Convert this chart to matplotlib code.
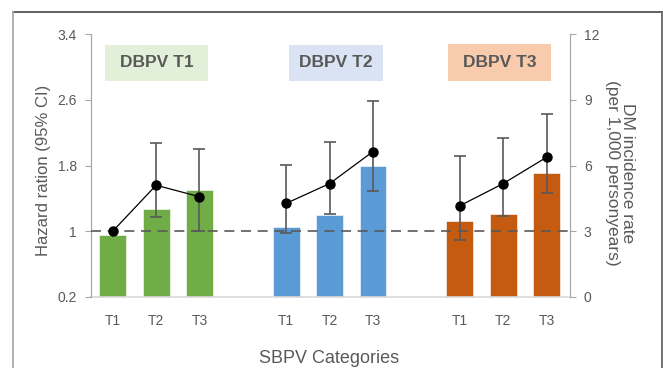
import matplotlib
matplotlib.use("Agg")
import matplotlib.pyplot as plt
from matplotlib.patches import Rectangle
from matplotlib.lines import Line2D

plt.rcParams['font.family'] = ['Liberation Sans', 'DejaVu Sans']

# ---- data ----
groups = ["DBPV T1", "DBPV T2", "DBPV T3"]
categories = ["T1", "T2", "T3"]
incidence_t1 = [2.82, 4.00, 4.88]
incidence_t2 = [3.20, 3.73, 5.97]
incidence_t3 = [3.47, 3.77, 5.65]
hr_t1 = [1.00, 1.56, 1.42]
hr_t2 = [1.34, 1.58, 1.97]
hr_t3 = [1.31, 1.58, 1.90]
lo_t1 = [1.00, 1.17, 1.00]
lo_t2 = [0.98, 1.21, 1.49]
lo_t3 = [0.89, 1.19, 1.47]
hi_t1 = [1.00, 2.07, 2.00]
hi_t2 = [1.81, 2.09, 2.58]
hi_t3 = [1.92, 2.13, 2.43]
left_ticks = [0.2, 1, 1.8, 2.6, 3.4]
left_labels = ["0.2", "1", "1.8", "2.6", "3.4"]
right_ticks = [0, 3, 6, 9, 12]

bar_colors = ["#70AD47", "#5B9BD5", "#C55A11"]
box_colors = ["#E2F0D9", "#DAE3F3", "#F8CBAD"]
incidence = [incidence_t1, incidence_t2, incidence_t3]
hrs = [hr_t1, hr_t2, hr_t3]
los = [lo_t1, lo_t2, lo_t3]
his = [hi_t1, hi_t2, hi_t3]

W, H = 663, 368
fig = plt.figure(figsize=(W / 100, H / 100), dpi=100)
L, R, B, T = 91, 570, 297, 34
ax_r = fig.add_axes([L / W, 1 - B / H, (R - L) / W, (B - T) / H])  # bars (right scale)
ax = ax_r.twinx()
ax_r.yaxis.tick_right()
ax.yaxis.tick_left()

tc = "#595959"
positions = []
for g in range(3):
    xs = [g * 4 + i for i in range(3)]
    positions += xs
    ax_r.bar(xs, incidence[g], width=0.62, color=bar_colors[g], edgecolor="white", linewidth=0.4, zorder=2)
    ax.plot(xs, hrs[g], color="black", lw=0.9, zorder=4)
    ax.plot(xs, hrs[g], 'o', color="black", ms=6.5, zorder=5)
    for x, h, lo, hi in zip(xs, hrs[g], los[g], his[g]):
        if hi - lo > 1e-6:
            ax.errorbar([x], [h], yerr=[[h - lo], [hi - h]], fmt='none', ecolor="#595959",
                        elinewidth=1.2, capsize=4, capthick=1.2, zorder=3)

ax.axhline(1, color="#595959", lw=1.2, ls=(0, (6, 4)), zorder=3)

ax_r.set_xlim(-0.5, 10.54)
ax_r.set_ylim(0, 12)
ax.set_ylim(0.2, 3.4)
ax.set_yticks(left_ticks)
ax.set_yticklabels(left_labels)
ax_r.set_yticks(right_ticks)
ax_r.set_xticks(positions)
ax_r.set_xticklabels(categories * 3)

for a in (ax, ax_r):
    a.spines["top"].set_visible(False)
    a.spines["left"].set_color("#A6A6A6")
    a.spines["right"].set_color("#A6A6A6")
    a.spines["bottom"].set_color("#D9D9D9")
    a.spines["bottom"].set_linewidth(1.2)
ax.spines["bottom"].set_visible(False)
ax_r.tick_params(axis='x', length=0, pad=12, labelsize=10, labelcolor=tc)
ax_r.tick_params(axis='y', length=4, color="#A6A6A6", labelsize=10, labelcolor=tc, pad=6)
ax.tick_params(axis='y', length=4, color="#A6A6A6", labelsize=10, labelcolor=tc, pad=6)

# group label boxes
boxes = [(105, 208, 44.5, 80.5), (289, 383, 45, 80.5), (448, 551, 44.5, 81)]
for (x0, x1, y0, y1), c, lab in zip(boxes, box_colors, groups):
    fig.patches.append(Rectangle((x0 / W, 1 - y1 / H), (x1 - x0) / W, (y1 - y0) / H,
                                 transform=fig.transFigure, facecolor=c, edgecolor="none", zorder=1))
    fig.text((x0 + x1) / 2 / W, 1 - (y0 + y1) / 2 / H, lab, ha='center', va='center',
             fontsize=12.5, fontweight='bold', color="#595959")

fig.text(44 / W, 1 - 170 / H, "Hazard ration (95% CI)", rotation=90, ha='center', va='center',
         fontsize=12, color=tc)
fig.text(620 / W, 1 - 173 / H, "DM incidence rate\n(per 1,000 personyears)", rotation=270,
         ha='center', va='center', fontsize=12.5, color=tc, multialignment='center', linespacing=1.0)
fig.text(329 / W, 1 - 363 / H, "SBPV Categories", ha='center', va='baseline', fontsize=13, color=tc)

# figure frame
fig.lines.append(Line2D([13 / W, 662 / W], [1 - 12 / H, 1 - 12 / H], transform=fig.transFigure, color="#555555", lw=1.3))
fig.lines.append(Line2D([13 / W, 13 / W], [0, 1 - 12 / H], transform=fig.transFigure, color="#AAAAAA", lw=1.3))
fig.lines.append(Line2D([662 / W, 662 / W], [0, 1 - 12 / H], transform=fig.transFigure, color="#666666", lw=1.3))

fig.savefig("out.png", dpi=100)
